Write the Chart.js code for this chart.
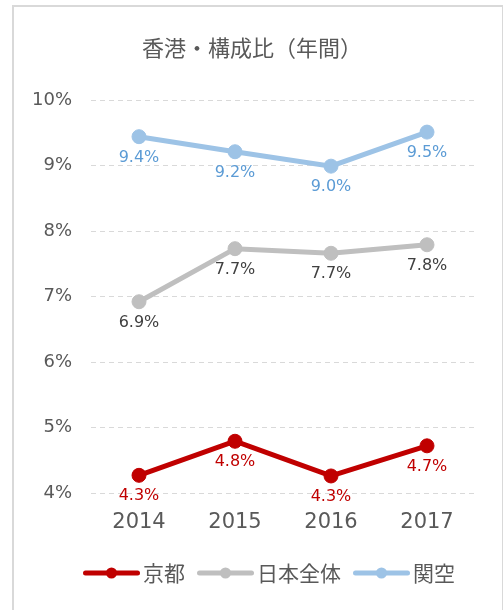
<!DOCTYPE html>
<html><head><meta charset="utf-8">
<script src="https://cdn.jsdelivr.net/npm/chart.js@4"></script>
<style>
html,body{margin:0;padding:0;background:#fff;overflow:hidden}
#frame{position:absolute;left:12px;top:5px;width:488px;height:700px;border:2px solid #d9d9d9;border-right-width:1px;box-sizing:content-box}
#c{position:absolute;left:0;top:0}
</style></head><body>
<div id="frame"></div>
<canvas id="c" width="504" height="610"></canvas>
<script>
const categories = ['2014', '2015', '2016', '2017'];
const seriesNames = ['京都', '日本全体', '関空'];
const kyotoValues = [4.27, 4.79, 4.26, 4.72];
const japanValues = [6.92, 7.73, 7.66, 7.79];
const kansaiValues = [9.44, 9.21, 8.99, 9.51];
const yTickMin = 4, yTickMax = 10, yTickStep = 1;
const titleText = '香港・構成比（年間）';

const lineColors = ['#C00000', '#BFBFBF', '#9DC3E6'];
const labelColors = ['#C00000', '#404040', '#5B9BD5'];
const numFont = '"DejaVu Sans", "Noto Sans CJK JP", sans-serif';
const cjkFont = '"Noto Sans CJK JP", "DejaVu Sans", sans-serif';

function legendIcon(color) {
  const c = document.createElement('canvas');
  c.width = 57; c.height = 14;
  const g = c.getContext('2d');
  g.strokeStyle = color; g.lineWidth = 5; g.lineCap = 'round';
  g.beginPath(); g.moveTo(2.5, 7); g.lineTo(54.5, 7); g.stroke();
  g.fillStyle = color;
  g.beginPath(); g.arc(28.5, 7, 5.5, 0, Math.PI * 2); g.fill();
  return c;
}
const icons = lineColors.map(legendIcon);

const dataLabels = {
  id: 'dataLabels',
  afterDatasetsDraw(chart) {
    const ctx = chart.ctx;
    chart.data.datasets.forEach((ds, i) => {
      const meta = chart.getDatasetMeta(i);
      ctx.save();
      ctx.font = '16px ' + numFont;
      ctx.fillStyle = labelColors[i];
      ctx.textAlign = 'center';
      ctx.textBaseline = 'middle';
      meta.data.forEach((pt, j) => {
        ctx.fillText(ds.data[j].toFixed(1) + '%', pt.x, pt.y + 21);
      });
      ctx.restore();
    });
  }
};

const legendShift = {
  id: 'legendShift',
  afterLayout(chart) { if (chart.legend) chart.legend.left = 41.5; }
};

function mkDataset(name, data, i) {
  return {
    label: name, data: data,
    borderColor: lineColors[i], backgroundColor: lineColors[i],
    pointBackgroundColor: lineColors[i], pointBorderColor: lineColors[i],
    borderWidth: 5, pointRadius: 7, pointHoverRadius: 7, pointBorderWidth: 1,
    tension: 0, fill: false
  };
}

new Chart(document.getElementById('c'), {
  type: 'line',
  data: {
    labels: categories,
    datasets: [
      mkDataset(seriesNames[0], kyotoValues, 0),
      mkDataset(seriesNames[1], japanValues, 1),
      mkDataset(seriesNames[2], kansaiValues, 2)
    ]
  },
  options: {
    responsive: false,
    animation: false,
    events: [],
    layout: { padding: { left: 0, right: 0, top: 0, bottom: 16.5 } },
    scales: {
      x: {
        type: 'category', offset: true,
        grid: { display: false, drawTicks: false },
        border: { display: false },
        ticks: { color: '#595959', font: { family: numFont, size: 21 }, padding: 17.4 },
        afterFit(s) { s.height = 50; }
      },
      y: {
        min: yTickMin, max: yTickMax,
        grid: { color: '#d9d9d9', lineWidth: 1, drawTicks: false },
        border: { display: false, dash: [5, 4] },
        ticks: { stepSize: yTickStep, color: '#595959', font: { family: numFont, size: 18 }, padding: 19,
          callback: v => v + '%' },
        afterFit(s) { s.width = 91; }
      },
      y2: {
        position: 'right', display: true,
        grid: { display: false, drawTicks: false },
        border: { display: false },
        ticks: { display: false },
        afterFit(s) { s.width = 29; }
      }
    },
    plugins: {
      title: {
        display: true, text: titleText, color: '#595959',
        font: { family: cjkFont, size: 22, weight: 'normal' },
        padding: { top: 34.5, bottom: 39.1 }
      },
      legend: {
        display: true, position: 'bottom',
        labels: {
          usePointStyle: true, pointStyleWidth: 42, boxWidth: 42, boxHeight: 14,
          padding: 19.5, color: '#595959',
          font: { family: cjkFont, size: 21 },
          generateLabels(chart) {
            const items = Chart.defaults.plugins.legend.labels.generateLabels(chart);
            items.forEach((it) => { it.pointStyle = icons[it.datasetIndex]; it.fontColor = '#595959'; });
            return items;
          }
        }
      },
      tooltip: { enabled: false }
    }
  },
  plugins: [dataLabels, legendShift]
});
</script>
</body></html>
